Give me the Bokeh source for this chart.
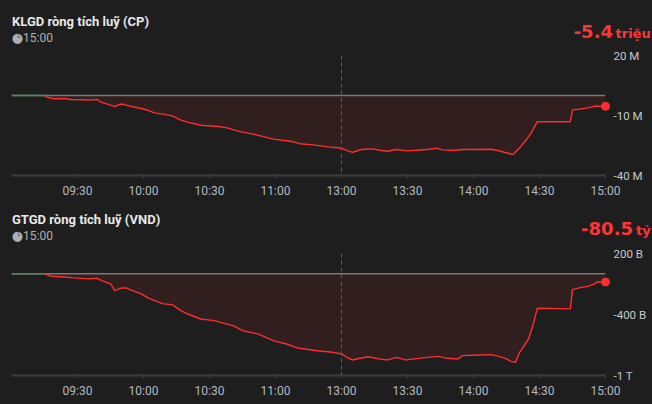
from bokeh.plotting import figure
from bokeh.layouts import column
from bokeh.models import Range1d, FixedTicker, Span
from bokeh.core.properties import value
from bokeh.embed import file_html
from bokeh.resources import INLINE

# ---------------- data ----------------
session = ["09:00", "15:00"]
ato_times = ["09:00", "09:15"]
ato_vals = [0, 0]

klgd_times = ["09:15", "09:16", "09:19", "09:24", "09:27", "09:33", "09:35", "09:39", "09:41", "09:45",
              "09:47", "09:49", "09:51", "09:54", "09:59", "10:02", "10:05", "10:09", "10:13", "10:17",
              "10:20", "10:26", "10:35", "10:38", "10:41", "10:45", "10:50", "10:55", "10:59", "11:05",
              "11:08", "11:11", "11:17", "11:24", "13:00", "13:03", "13:05", "13:09", "13:14", "13:18",
              "13:21", "13:25", "13:30", "13:34", "13:39", "13:43", "13:46", "13:51", "13:55", "14:00",
              "14:08", "14:11", "14:14", "14:18", "14:21", "14:24", "14:26", "14:29", "14:44", "14:45",
              "14:48", "14:52", "14:55", "15:00"]
klgd_vals = [0, -0.8, -1.6, -1.5, -2.0, -2.1, -2.3, -2.0, -3.4, -4.8,
             -5.6, -4.4, -4.4, -5.4, -6.5, -7.4, -8.7, -9.3, -10.2, -12.3,
             -13.3, -14.9, -15.6, -16.2, -17.2, -18.3, -19.3, -20.7, -21.8, -22.6,
             -23.1, -24.1, -24.7, -25.7, -26.4, -27.7, -28.4, -27.0, -26.7, -27.5,
             -27.9, -27.0, -27.7, -27.4, -27.0, -26.4, -27.2, -27.5, -27.0, -27.0,
             -26.9, -27.5, -28.4, -29.5, -26.1, -22.1, -19.2, -13.1, -13.1, -7.2,
             -6.9, -6.2, -5.4, -5.4]

gtgd_times = ["09:15", "09:16", "09:18", "09:24", "09:28", "09:35", "09:39", "09:41", "09:45", "09:47",
              "09:50", "09:52", "09:55", "09:59", "10:02", "10:05", "10:09", "10:13", "10:17", "10:20",
              "10:26", "10:32", "10:35", "10:41", "10:45", "10:52", "10:59", "11:05", "11:10", "11:19",
              "11:26", "13:00", "13:03", "13:05", "13:09", "13:12", "13:17", "13:21", "13:25", "13:29",
              "13:33", "13:39", "13:44", "13:48", "13:53", "13:55", "14:03", "14:08", "14:12", "14:15",
              "14:17", "14:19", "14:21", "14:25", "14:27", "14:29", "14:44", "14:45", "14:49", "14:52",
              "14:55", "14:56", "15:00"]
gtgd_vals = [0, -8, -24, -31, -40, -50, -44, -67, -99, -165,
             -139, -139, -165, -198, -237, -264, -296, -303, -362, -395,
             -444, -460, -477, -512, -559, -591, -657, -690, -729, -756,
             -772, -788, -828, -847, -828, -815, -837, -847, -822, -847,
             -837, -822, -812, -831, -837, -805, -798, -795, -814, -837,
             -861, -871, -772, -641, -510, -339, -345, -155, -133, -123,
             -99, -80.5, -80.5]

x_tick_labels = ["09:30", "10:00", "10:30", "11:00", "13:00", "13:30", "14:00", "14:30", "15:00"]
lunch_end = "13:00"
as_of = "15:00"

klgd_yticks = [20, -10, -40]
klgd_ylabels = ["20 M", "-10 M", "-40 M"]
gtgd_yticks = [200, -400, -1000]
gtgd_ylabels = ["200 B", "-400 B", "-1 T"]

# ---------------- styling ----------------
BG = "#1e1e1e"
RED = "#ff2d2d"
TXT_RED = "#ff3535"
FILL = "#311e1e"
GREEN = "#4a8c55"
ZERO = "#7a7a7a"
AXIS = "#3c3c3c"
FRAME_L, FRAME_R = 11, 605      # page px of frame left / right
FRAME_H = 122
W = 652


def tmin(s):
    h, m = map(int, s.split(":"))
    v = h * 60 + m - 540
    if v > 150:
        v -= 90
    return v


X0, X1 = tmin(session[0]), tmin(session[1])


def xpage(px):
    return X0 + (px - FRAME_L) * (X1 - X0) / (FRAME_R - FRAME_L)


def panel(times, vals, yticks, ylabels, title, number, unit, height, top, bottom, pos):
    ymin, ymax = min(yticks), max(yticks)

    def ypage(py):
        return ymax + (top - py) * (ymax - ymin) / FRAME_H

    p = figure(width=W, height=height, x_range=Range1d(X0, X1), y_range=Range1d(ymin, ymax),
               output_backend="svg", toolbar_location=None, y_axis_location="right",
               min_border_left=FRAME_L, min_border_right=W - FRAME_R, min_border_top=top,
               min_border_bottom=bottom)
    p.background_fill_color = BG
    p.border_fill_color = BG
    p.outline_line_color = None
    p.grid.visible = False

    xt = [tmin(t) for t in x_tick_labels]
    p.xaxis.ticker = FixedTicker(ticks=xt)
    p.xaxis.major_label_overrides = {v: l for v, l in zip(xt, x_tick_labels)}
    p.xaxis.axis_line_color = AXIS
    p.xaxis.axis_line_width = 2
    p.xaxis.major_tick_line_color = AXIS
    p.xaxis.major_tick_in = 2
    p.xaxis.major_tick_out = 3
    p.xaxis.minor_tick_line_color = None
    p.xaxis.major_label_text_color = "#b3b8c0"
    p.xaxis.major_label_text_font = "Roboto"
    p.xaxis.major_label_text_font_size = "12px"
    p.xaxis.major_label_standoff = 5

    p.yaxis.ticker = FixedTicker(ticks=yticks)
    p.yaxis.major_label_overrides = {v: l for v, l in zip(yticks, ylabels)}
    p.yaxis.axis_line_color = None
    p.yaxis.major_tick_line_color = None
    p.yaxis.major_tick_out = 0
    p.yaxis.major_tick_in = 0
    p.yaxis.minor_tick_line_color = None
    p.yaxis.major_label_text_color = "#c8c8c8"
    p.yaxis.major_label_text_font = "Roboto"
    p.yaxis.major_label_text_font_size = "11.5px"
    p.yaxis.major_label_standoff = 8

    xs = [tmin(t) for t in times]
    p.varea(x=xs, y1=[0] * len(xs), y2=vals, fill_color=FILL)
    p.line(x=[X0, X1], y=[0, 0], line_color=ZERO, line_width=1.5)
    p.add_layout(Span(location=tmin(lunch_end), dimension="height", line_color="#5c5c5c",
                      line_dash="4 3", line_width=1))
    p.line(x=[tmin(t) for t in ato_times], y=ato_vals, line_color=GREEN, line_width=1.5)
    p.line(x=xs, y=vals, line_color=RED, line_width=1.4)
    p.scatter(x=[xs[-1]], y=[vals[-1]], size=8, fill_color=RED, line_color=RED, level="overlay")

    t_y, c_y, s_y, n_y, u_y, num_right, unit_left = pos
    common = dict(text_baseline="middle", level="overlay")
    p.text(x=[xpage(11.5)], y=[ypage(t_y)], text=[title], text_font=value("Roboto"),
           text_font_style="bold", text_font_size="13px", text_color="#e8e8e8",
           text_align="left", **common)
    p.text(x=[xpage(16.8)], y=[ypage(c_y)], text=["\u25cf"], text_font=value("DejaVu Sans"),
           text_font_size="13px", text_color="#b0b0b0", text_align="center", **common)
    p.text(x=[xpage(17.6)], y=[ypage(c_y)], text=["\u2514"], text_font=value("DejaVu Sans Mono"),
           text_font_size="6.5px", text_color=BG, text_align="center", **common)
    p.text(x=[xpage(22.5)], y=[ypage(s_y)], text=[as_of], text_font=value("Roboto"),
           text_font_size="12px", text_color="#b0b0b0", text_align="left", **common)
    p.text(x=[xpage(num_right)], y=[ypage(n_y)], text=[number], text_font=value("DejaVu Sans"),
           text_font_style="bold", text_font_size="18px", text_color=TXT_RED,
           text_align="right", **common)
    p.text(x=[xpage(unit_left)], y=[ypage(u_y)], text=[unit], text_font=value("DejaVu Sans"),
           text_font_style="bold", text_font_size="13px", text_color=TXT_RED,
           text_align="left", **common)
    return p


p1 = panel(klgd_times, klgd_vals, klgd_yticks, klgd_ylabels, "KLGD r\u00f2ng t\u00edch lu\u1ef9 (CP)",
           "-5.4", "tri\u1ec7u", 200, 55, 23, (20, 37, 36.7, 30.4, 32.2, 612.5, 615))
p2 = panel(gtgd_times, gtgd_vals, gtgd_yticks, gtgd_ylabels, "GTGD r\u00f2ng t\u00edch lu\u1ef9 (VND)",
           "-80.5", "t\u1ef7", 204, 53, 29, (19, 35, 35.5, 27.7, 29.5, 632.5, 635.5))

p = column(p1, p2, spacing=0, styles={"background-color": BG})
open("out.html", "w").write(file_html(p, INLINE))
